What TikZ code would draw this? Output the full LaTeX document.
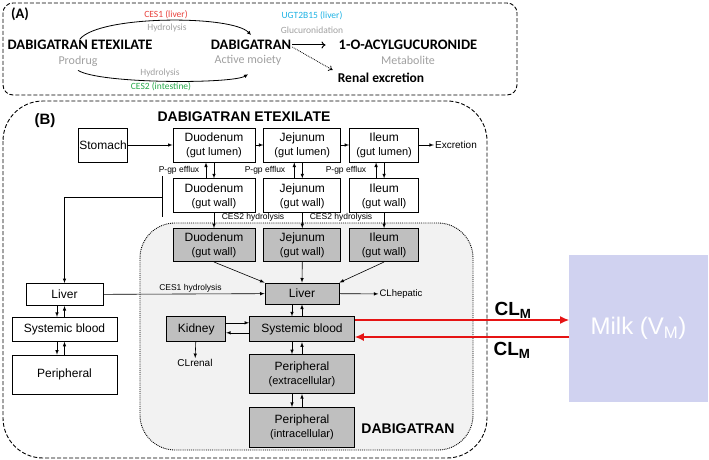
\documentclass[tikz,border=0pt]{standalone}
\usepackage{fontspec}
\setmainfont{Liberation Sans}
\newfontfamily\calibri{Carlito}
\usetikzlibrary{arrows,arrows.meta,positioning}
\definecolor{cesred}{RGB}{232,65,60}
\definecolor{ugtblue}{RGB}{30,178,228}
\definecolor{cesgreen}{RGB}{40,170,75}
\definecolor{labelgray}{RGB}{160,160,160}
\definecolor{boxgray}{RGB}{191,191,191}
\definecolor{regiongray}{RGB}{242,242,242}
\definecolor{milkblue}{RGB}{208,210,240}
\definecolor{clred}{RGB}{230,20,20}
\newcommand{\fsz}[2]{\fontsize{#1}{#2}\selectfont}

\begin{document}
\begin{tikzpicture}[x=1pt, y=-1pt, >=latex,
            wbox/.style={draw, line width=0.8pt, fill=white, align=center, inner sep=1pt, font=\fsz{12}{14}},
            gbox/.style={wbox, fill=boxgray},
            small/.style={inner sep=1pt, font=\fsz{8.5}{10}},
            note/.style={inner sep=1pt, font=\fsz{9.5}{11}},
            drug/.style={inner sep=1pt, font=\calibri\bfseries\fsz{14.5}{16}},
            role/.style={inner sep=1pt, text=labelgray, font=\calibri\fsz{12}{14}},
            enz/.style={inner sep=1pt, font=\calibri\fsz{9.5}{11}},
            link/.style={->, line width=0.6pt},
            clarrow/.style={draw=clred, fill=clred, line width=1.2pt, arrows={-Latex[length=9pt,width=8pt]}}]
            \useasboundingbox (0,0) rectangle (709,460);

            % Panel (A)
            \draw[line width=0.9pt, dash pattern=on 4pt off 2pt, rounded corners=10] (3,3) rectangle (517,95);
            \node[drug] (tA) at (20,14) {(A)};
            \node[drug] (ete) at (80,45) {DABIGATRAN ETEXILATE};
            \node[role] (prodrug) at (78,61) {Prodrug};
            \node[drug] (dab) at (251,45) {DABIGATRAN};
            \node[role] (moiety) at (248,60) {Active moiety};
            \node[drug] (acyl) at (408,45) {1-O-ACYLGUCURONIDE};
            \node[role] (metab) at (408,60) {Metabolite};
            \node[drug, font=\calibri\bfseries\fsz{13.5}{15}] (renal) at (381,78) {Renal excretion};
            \node[enz, text=cesred] (ces1) at (166,15) {CES1 (liver)};
            \node[enz, text=labelgray] (hyd1) at (167,28) {Hydrolysis};
            \node[enz, text=labelgray] (hyd2) at (160,73) {Hydrolysis};
            \node[enz, text=cesgreen] (ces2) at (161,87) {CES2 (intestine)};
            \node[enz, text=ugtblue] (ugt) at (312,16) {UGT2B15 (liver)};
            \node[enz, text=labelgray] (gluc) at (312,30) {Glucuronidation};

            % Flechas (A)
            \draw[line width=0.8pt, -{Latex[length=4pt,width=4pt]}] (ete.north) .. controls (100,15) and (232,15) .. ([yshift=4pt]dab.north);
            \draw[line width=0.8pt, -{Latex[length=4pt,width=4pt]}] ([yshift=-3pt]prodrug.south) .. controls (100,84) and (232,84) .. ([yshift=-8pt]moiety.south);
            \draw[line width=1pt, -{To[length=4pt,width=7pt]}] (dab.east) -- ([xshift=-12pt]acyl.west);
            \draw[line width=0.8pt, densely dotted, -{To[length=4pt,width=6pt]}] ([yshift=-2pt]dab.east) -- ([xshift=-4pt,yshift=2pt]renal.north west);

            % Panel (B)
            \draw[line width=0.9pt, dash pattern=on 4pt off 2pt, rounded corners=40] (3,101) rectangle (487,458);
            \draw[line width=0.9pt, densely dotted, fill=regiongray, rounded corners=35] (140,223) rectangle (473,450);
            \node[drug, font=\bfseries\fsz{15}{17}] (tB) at (45,121) {(B)};
            \node[drug, font=\bfseries\fsz{14}{16}] (etetitle) at (244,117) {DABIGATRAN ETEXILATE};

            % Lumen y pared intestinal
            \node[wbox, minimum width=41, minimum height=34] (stomach) at (103,145) {Stomach};
            \node[wbox, minimum width=82, minimum height=34] (duol) at (214,145) {Duodenum\\{\fsz{11}{13}(gut lumen)}};
            \node[wbox, minimum width=77, minimum height=34, right=8pt of duol] (jejl) {Jejunum\\{\fsz{11}{13}(gut lumen)}};
            \node[wbox, minimum width=69, minimum height=34, right=8pt of jejl] (ilel) {Ileum\\{\fsz{11}{13}(gut lumen)}};
            \node[note, font=\fsz{10}{12}] (excr) at (456,145) {Excretion};
            \node[wbox, minimum width=82, minimum height=34, below=16pt of duol] (duow) {Duodenum\\{\fsz{11}{13}(gut wall)}};
            \node[wbox, minimum width=77, minimum height=34, below=16pt of jejl] (jejw) {Jejunum\\{\fsz{11}{13}(gut wall)}};
            \node[wbox, minimum width=69, minimum height=34, below=16pt of ilel] (ilew) {Ileum\\{\fsz{11}{13}(gut wall)}};
            \node[small] (pgp1) at (179,170) {P-gp efflux};
            \node[small] (pgp2) at (265,170) {P-gp efflux};
            \node[small] (pgp3) at (346,170) {P-gp efflux};
            \node[small] (hyd3) at (253,217) {CES2 hydrolysis};
            \node[small] (hyd4) at (341,217) {CES2 hydrolysis};

            % Dabigatran (gris)
            \node[gbox, minimum width=82, minimum height=33, below=15pt of duow] (duog) {Duodenum\\{\fsz{11}{13}(gut wall)}};
            \node[gbox, minimum width=77, minimum height=33, below=15pt of jejw] (jejg) {Jejunum\\{\fsz{11}{13}(gut wall)}};
            \node[gbox, minimum width=69, minimum height=33, below=15pt of ilew] (ileg) {Ileum\\{\fsz{11}{13}(gut wall)}};
            \node[gbox, minimum width=74, minimum height=21] (liverg) at (302,293.5) {Liver};
            \node[gbox, minimum width=105, minimum height=25, below=12pt of liverg] (sbg) {Systemic blood};
            \node[gbox, minimum width=59, minimum height=25, left=23pt of sbg] (kidney) {Kidney};
            \node[gbox, minimum width=105, minimum height=39, below=12pt of sbg] (pext) {Peripheral\\{\fsz{11}{13}(extracellular)}};
            \node[gbox, minimum width=105, minimum height=40, below=13pt of pext] (pint) {Peripheral\\{\fsz{11}{13}(intracellular)}};
            \node[note] (clhep) at (401,294) {CLhepatic};
            \node[note, font=\fsz{10}{12}] (clren) at (195,363) {CLrenal};
            \node[drug, font=\bfseries\fsz{14}{16}] (dabtitle) at (408,429) {DABIGATRAN};

            % Columna izquierda
            \node[wbox, minimum width=77, minimum height=22] (liverw) at (64.5,294.5) {Liver};
            \node[wbox, minimum width=105, minimum height=24, below=11pt of liverw] (sbw) {Systemic blood};
            \node[wbox, minimum width=105, minimum height=39, below=13pt of sbw] (perw) {Peripheral};
            \coordinate (brtop) at (162,176);
            \coordinate (brbot) at (162,217);
            \coordinate (brmid) at (162,197);

            % Leche
            \node[draw=none, fill=milkblue, text=white, minimum width=139, minimum height=147, font=\fsz{24}{28}] (milk) at (638.5,328.5) {Milk (V\textsubscript{M})};
            \node[font=\bfseries\fsz{19}{22}] (clm1) at (513,310) {CL\textsubscript{M}};
            \node[font=\bfseries\fsz{19}{22}] (clm2) at (512,350) {CL\textsubscript{M}};
            \coordinate (m1) at (569,320);
            \coordinate (m2) at (569,337);

            % Flechas (B)
            \draw[link] (stomach) -- (duol);
            \draw[link] (duol) -- (jejl);
            \draw[link] (jejl) -- (ilel);
            \draw[link] (ilel) -- (excr);
            \foreach \a/\b in {duol/duow, jejl/jejw, ilel/ilew}{
                \draw[link] (\a.south) -- (\b.north);
                \draw[link] ([xshift=-8pt]\b.north) -- ([xshift=-8pt]\a.south);
            }
            \draw[link] (duow) -- (duog);
            \draw[link] (jejw) -- (jejg);
            \draw[link] (ilew) -- (ileg);
            \draw[link] (duog.south) -- (liverg.north west);
            \draw[link] (jejg.south) -- (liverg.north);
            \draw[link] (ileg.south) -- (liverg.north east);
            \draw[link] (liverg) -- (clhep);
            \draw[link] (kidney) -- (clren);
            \foreach \a/\b in {liverg/sbg, sbg/pext, pext/pint}{
                \draw[link] ([xshift=-10pt]\a.south) -- ([xshift=-10pt]\b.north);
                \draw[link] (\b.north) -- (\a.south);
            }
            \draw[link] ([yshift=6.5pt]kidney.east) -- ([yshift=6.5pt]sbg.west);
            \draw[link] ([yshift=-3.5pt]sbg.west) -- ([yshift=-3.5pt]kidney.east);
            \draw[link] (liverw) -- node[small, above, pos=0.54] {CES1 hydrolysis} (liverg);
            \foreach \a/\b in {liverw/sbw, sbw/perw}{
                \draw[link] ([xshift=-7.5pt]\a.south) -- ([xshift=-7.5pt]\b.north);
                \draw[link] (\b.north) -- (\a.south);
            }
            \draw[line width=0.6pt] (brtop) -- (brbot);
            \draw[link] (brmid) -| (liverw.north);
            \draw[clarrow] (sbg.east |- m1) -- (m1);
            \draw[clarrow] (m2) -- (sbg.east |- m2);

        \end{tikzpicture}
\end{document}
